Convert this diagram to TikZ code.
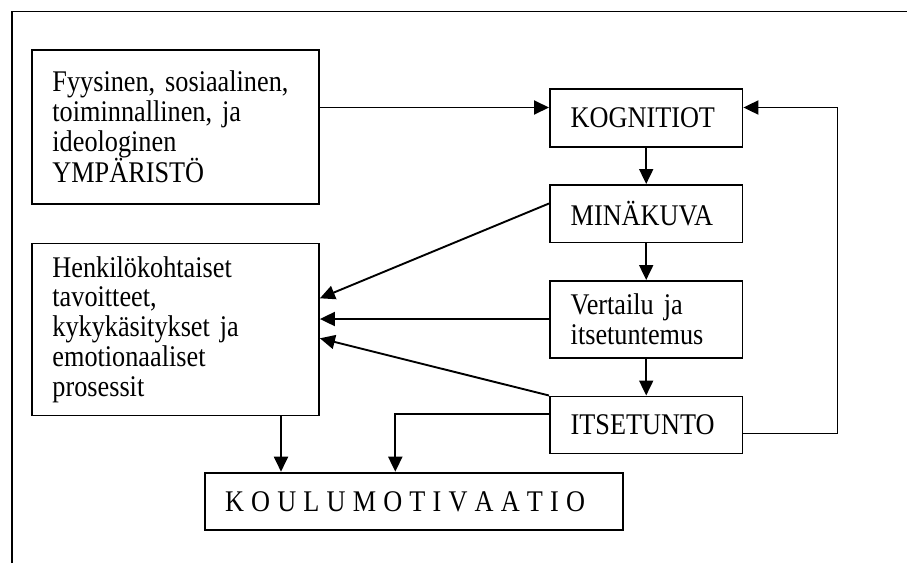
\documentclass[tikz,border=0pt]{standalone}
\usepackage{fontspec}
\setmainfont{Liberation Serif}[FakeStretch=0.875]
\usetikzlibrary{arrows.meta}
\begin{document}
\begin{tikzpicture}[x=1pt,y=-1pt,
  box/.style={draw, line width=1.9pt, anchor=north west, align=left,
    inner xsep=20.5pt, inner ysep=0pt,
    font=\fontsize{30}{29.8}\selectfont},
  conn/.style={line width=1.9pt, -{Triangle[length=15pt,width=14pt]}},
  plain/.style={line width=1.9pt}]
\useasboundingbox (0,0) rectangle (907,563);
\draw[plain] (12,563) -- (12,11.5) -- (907,11.5);
% boxes
\node[box, minimum width=287pt, minimum height=154pt, text width=246pt] (env) at (31,49)
  {Fyysinen, sosiaalinen,\\toiminnallinen, ja\\ideologinen\\YMPÄRISTÖ};
\node[box, minimum width=287pt, minimum height=172pt, text width=246pt] (hen) at (31,242.5)
  {Henkilökohtaiset\\tavoitteet,\\kykykäsitykset ja\\emotionaaliset\\prosessit};
\node[box, minimum width=192.5pt, minimum height=58pt, text width=151pt] (kog) at (549,88)
  {KOGNITIOT};
\node[box, minimum width=192.5pt, minimum height=57.5pt, text width=151pt] (min) at (549,184)
  {MINÄKUVA};
\node[box, minimum width=192.5pt, minimum height=77pt, text width=151pt] (ver) at (549,280)
  {Vertailu ja\\itsetuntemus};
\node[box, minimum width=192.5pt, minimum height=57pt, text width=151pt] (its) at (549,395.5)
  {ITSETUNTO};
\node[box, minimum width=418pt, minimum height=57.5pt, text width=377pt] (kou) at (203.6,471.7)
  {\makebox[360pt][l]{K\hfill O\hfill U\hfill L\hfill U\hfill M\hfill O\hfill T\hfill I\hfill V\hfill A\hfill A\hfill T\hfill I\hfill O}};
% coordinates
\coordinate (fbR) at (837.5,433.5);
\coordinate (fbT) at (837.5,107.5);
\coordinate (itsL) at (395.3,414.3);
% connectors
\draw[conn] (env.east |- 0,107.5) -- (kog.west |- 0,107.5);
\draw[conn] (kog.south) -- (min.north);
\draw[conn] (min.south) -- (ver.north);
\draw[conn] (ver.south) -- (its.north);
\draw[conn] (min.west |- 0,203.5) -- (hen.east |- 0,298.3);
\draw[conn] (ver.west |- 0,319) -- (hen.east |- 0,319);
\draw[conn] (its.north west) -- (hen.east |- 0,338.3);
\draw[conn] (its.west |- itsL) -- (itsL) -- (itsL |- kou.north);
\draw[conn] (hen.south -| 281,0) -- (kou.north -| 281,0);
\draw[conn] (its.east |- fbR) -- (fbR) -- (fbT) -- (kog.east |- fbT);
\end{tikzpicture}
\end{document}
